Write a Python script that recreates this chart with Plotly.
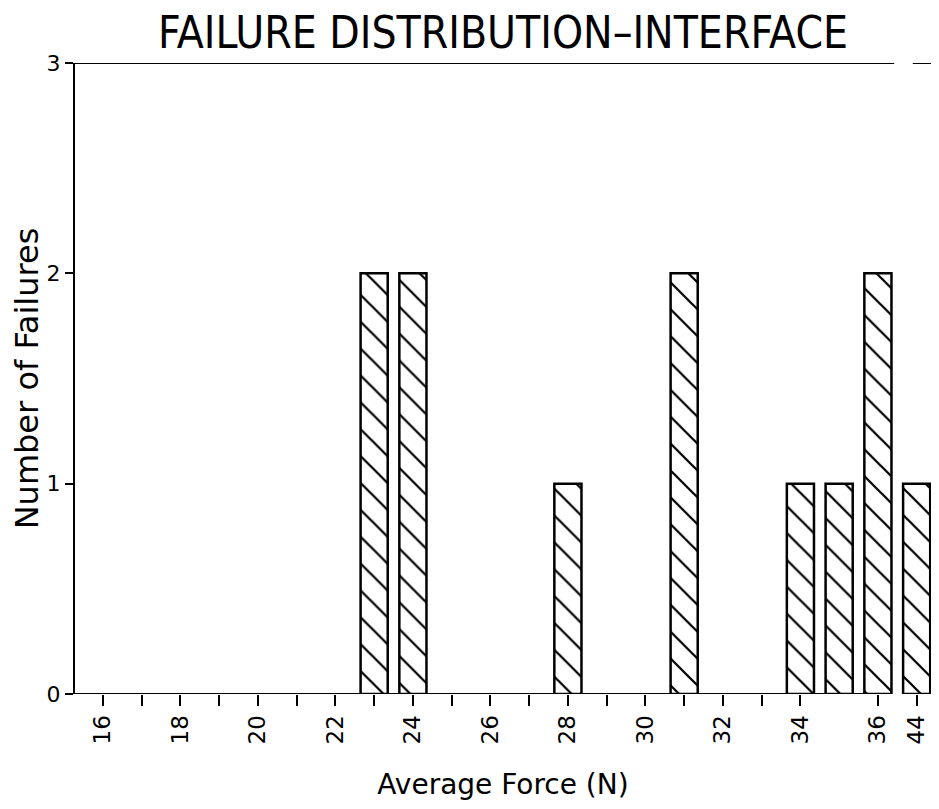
import plotly.graph_objects as go

# ---- data ----
categories = ["16", "17", "18", "19", "20", "21", "22", "23", "24", "25", "26",
              "27", "28", "29", "30", "31", "32", "33", "34", "35", "36", "44"]
bar_forces = ["23", "24", "28", "31", "34", "35", "36", "44"]
bar_counts = [2, 2, 1, 2, 1, 1, 2, 1]
tick_forces = ["16", "17", "18", "19", "20", "21", "22", "23", "24", "25", "26",
               "27", "28", "29", "30", "31", "32", "33", "34", "36", "44"]
tick_labels = ["16", "", "18", "", "20", "", "22", "", "24", "", "26",
               "", "28", "", "30", "", "32", "", "34", "36", "44"]
y_ticks = [0, 1, 2, 3]

title_text = "FAILURE DISTRIBUTION–INTERFACE"
x_title = "Average Force (N)"
y_title = "Number of Failures"

FONT = "DejaVu Sans"

# the page body has an 8px default margin on every side; keep the figure
# inside the window so no scrollbars appear
W, H = 923, 793

fig = go.Figure()
fig.add_trace(go.Bar(
    x=bar_forces,
    y=bar_counts,
    width=0.7,
    marker=dict(
        color="white",
        line=dict(color="black", width=2.5),
        pattern=dict(shape="\\", fgcolor="black", bgcolor="white",
                     size=19, solidity=0.12, fillmode="replace"),
    ),
    showlegend=False,
    hoverinfo="x+y",
))

x0, x1 = -0.72, 21.37
# frame lines with a break between 36 and 44
break_bottom = (20.35, 20.64)
break_top = (20.42, 20.9)
shapes = [
    dict(type="line", xref="x", yref="y", x0=x0, x1=break_bottom[0], y0=0, y1=0,
         line=dict(color="black", width=2)),
    dict(type="line", xref="x", yref="y", x0=break_bottom[1], x1=x1, y0=0, y1=0,
         line=dict(color="black", width=2)),
    dict(type="line", xref="x", yref="y", x0=x0, x1=break_top[0], y0=3, y1=3,
         line=dict(color="black", width=2)),
    dict(type="line", xref="x", yref="y", x0=break_top[1], x1=x1, y0=3, y1=3,
         line=dict(color="black", width=2)),
]

fig.update_layout(
    width=W, height=H,
    margin=dict(l=67, r=0, t=55, b=107, pad=0, autoexpand=False),
    paper_bgcolor="white",
    plot_bgcolor="white",
    font=dict(family=FONT, color="black"),
    title=dict(
        text=title_text,
        x=0.5, xref="paper", xanchor="center",
        y=1 - 25 / H, yref="container", yanchor="middle",
        font=dict(family="Liberation Sans Narrow, DejaVu Sans Condensed, DejaVu Sans",
                  size=44, color="black"),
    ),
    xaxis=dict(
        type="category",
        categoryorder="array",
        categoryarray=categories,
        range=[x0, x1],
        automargin=False,
        tickmode="array",
        tickvals=tick_forces,
        ticktext=tick_labels,
        tickangle=-90,
        ticks="outside",
        ticklen=11,
        tickwidth=2,
        tickcolor="black",
        tickfont=dict(family=FONT, size=23, color="black"),
        showline=False,
        showgrid=False,
        zeroline=False,
        title=dict(text=x_title, font=dict(family=FONT, size=28, color="black"),
                   standoff=32),
    ),
    yaxis=dict(
        range=[0, 3],
        automargin=False,
        tickmode="array",
        tickvals=y_ticks,
        ticks="outside",
        ticklen=8,
        tickwidth=2,
        tickcolor="black",
        tickfont=dict(family=FONT, size=22, color="black"),
        showline=True,
        linecolor="black",
        linewidth=2,
        showgrid=False,
        zeroline=False,
        title=dict(text=y_title, font=dict(family=FONT, size=32, color="black"),
                   standoff=17),
    ),
    shapes=shapes,
    bargap=0.3,
)

fig.write_html("out.html")
